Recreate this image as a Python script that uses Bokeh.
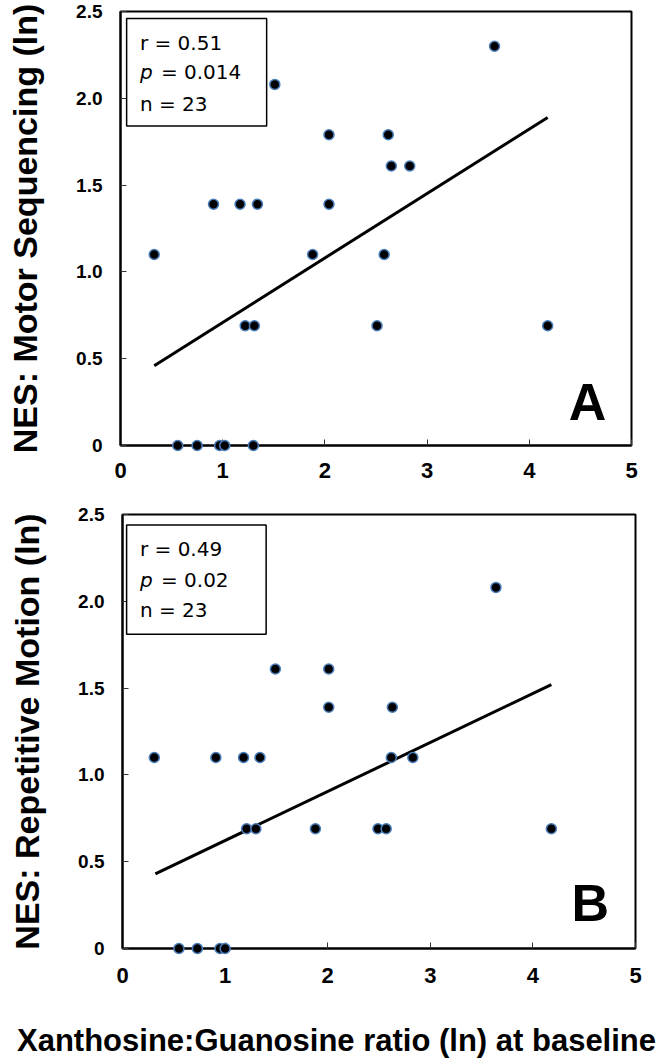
from bokeh.plotting import figure
from bokeh.layouts import column, row
from bokeh.models import Label, BoxAnnotation, FixedTicker, Range1d
from bokeh.embed import file_html
from bokeh.resources import INLINE

# ---------------- data ----------------
a_x = [0.33, 0.56, 0.75, 0.97, 1.02, 1.30, 1.22, 1.31, 1.88, 0.91, 1.17,
       1.34, 2.04, 1.51, 2.04, 2.62, 2.65, 2.83, 3.66, 2.58, 2.51, 4.18]
a_y = [1.10, 0.00, 0.00, 0.00, 0.00, 0.00, 0.69, 0.69, 1.10, 1.39, 1.39,
       1.39, 1.39, 2.08, 1.79, 1.79, 1.61, 1.61, 2.30, 1.10, 0.69, 0.69]
a_fit_x = [0.33, 4.18]
a_fit_y = [0.46, 1.89]
a_stats = ["r = 0.51", "0.014", "n = 23"]

b_x = [0.31, 0.91, 1.18, 1.34, 2.62, 2.83, 1.49, 2.01, 2.01, 2.63, 3.64,
       1.21, 1.30, 1.88, 2.49, 2.57, 4.18, 0.55, 0.73, 0.95, 1.00]
b_y = [1.10, 1.10, 1.10, 1.10, 1.10, 1.10, 1.61, 1.61, 1.39, 1.39, 2.08,
       0.69, 0.69, 0.69, 0.69, 0.69, 0.69, 0.00, 0.00, 0.00, 0.00]
b_fit_x = [0.32, 4.18]
b_fit_y = [0.43, 1.52]
b_stats = ["r = 0.49", "0.02", "n = 23"]

x_ticks = [0, 1, 2, 3, 4, 5]
y_ticks = [0, 0.5, 1.0, 1.5, 2.0, 2.5]
y_tick_labels = {0: "0", 0.5: "0.5", 1: "1.0", 1.5: "1.5", 2: "2.0", 2.5: "2.5"}
y_label_a = "NES: Motor Sequencing (ln)"
y_label_b = "NES: Repetitive Motion (ln)"
x_label = "Xanthosine:Guanosine ratio (ln) at baseline"

FONT = "Liberation Sans"
SFONT = "DejaVu Sans"


def make_panel(xs, ys, fx, fy, stats, ylab, letter, height, mb_top, mb_bottom,
               mb_left, mb_right, x_standoff, stat_x, stat_ys, box, letter_pos):
    p = figure(width=664, height=height, output_backend="svg",
               toolbar_location=None, x_range=Range1d(0, 5), y_range=Range1d(0, 2.5),
               min_border_top=mb_top, min_border_bottom=mb_bottom,
               min_border_left=mb_left, min_border_right=mb_right)
    p.grid.visible = False
    p.outline_line_color = "black"
    p.outline_line_width = 2
    p.outline_line_alpha = 1
    p.background_fill_color = "white"
    p.border_fill_color = "white"

    for ax in (p.xaxis[0], p.yaxis[0]):
        ax.axis_line_color = "black"
        ax.axis_line_width = 2
        ax.major_tick_in = 6
        ax.major_tick_out = 0
        ax.minor_tick_line_color = None
        ax.major_tick_line_color = "#333333"
        ax.major_tick_line_width = 1
        ax.major_label_text_font = FONT
        ax.major_label_text_font_style = "bold"
        ax.major_label_text_color = "black"
    p.xaxis.ticker = FixedTicker(ticks=x_ticks)
    p.xaxis.major_label_text_font_size = "22px"
    p.xaxis.major_label_standoff = x_standoff
    p.yaxis.ticker = FixedTicker(ticks=y_ticks)
    p.yaxis.major_label_overrides = y_tick_labels
    p.yaxis.major_label_text_font_size = "19px"
    p.yaxis.major_label_standoff = 18
    p.yaxis.axis_label = ylab
    p.yaxis.axis_label_text_font = FONT
    p.yaxis.axis_label_text_font_style = "bold"
    p.yaxis.axis_label_text_font_size = "34px"
    p.yaxis.axis_label_text_color = "black"
    p.yaxis.axis_label_standoff = 29

    # stats box
    p.add_layout(BoxAnnotation(left=box[0], right=box[1], bottom=box[2], top=box[3],
                               fill_color="white", fill_alpha=1,
                               line_color="black", line_alpha=1, line_width=1.5,
                               level="overlay"))
    common = dict(text_font=SFONT, text_font_size="20px", text_color="black",
                  text_baseline="middle", level="overlay")
    p.add_layout(Label(x=stat_x, y=stat_ys[0], text=stats[0], **common))
    p.add_layout(Label(x=stat_x, y=stat_ys[1], text="p", text_font_style="italic", **common))
    p.add_layout(Label(x=stat_x, y=stat_ys[1], x_offset=21, text="= " + stats[1], **common))
    p.add_layout(Label(x=stat_x, y=stat_ys[2], text=stats[2], **common))

    # regression line and points
    p.line(fx, fy, line_color="black", line_width=3, level="overlay")
    p.scatter(xs, ys, size=10, fill_color="black", line_color="#4a7ebb",
              line_width=1.5, level="overlay")

    p.add_layout(Label(x=letter_pos[0], y=letter_pos[1], text=letter, text_font=FONT,
                       text_font_style="bold", text_font_size="52px", text_color="black",
                       text_align="center", text_baseline="middle"))
    return p


p1 = make_panel(a_x, a_y, a_fit_x, a_fit_y, a_stats, y_label_a, "A",
                height=500, mb_top=11, mb_bottom=55, mb_left=120, mb_right=33,
                x_standoff=17,
                stat_x=0.19, stat_ys=[2.32, 2.15, 1.97], box=[0.06, 1.43, 1.84, 2.46],
                letter_pos=[4.57, 0.253])
p2 = make_panel(b_x, b_y, b_fit_x, b_fit_y, b_stats, y_label_b, "B",
                height=505, mb_top=14, mb_bottom=57, mb_left=122, mb_right=29,
                x_standoff=19,
                stat_x=0.17, stat_ys=[2.30, 2.12, 1.95], box=[0.04, 1.40, 1.81, 2.44],
                letter_pos=[4.56, 0.262])

xl = figure(width=664, height=57, output_backend="svg", toolbar_location=None,
            x_range=Range1d(0, 664), y_range=Range1d(0, 57),
            x_axis_location=None, y_axis_location=None, min_border=0,
            outline_line_color=None)
xl.grid.visible = False
xl.background_fill_color = "white"
xl.border_fill_color = "white"
xl.add_layout(Label(x=336, y=22, text=x_label, text_font=FONT, text_font_style="bold",
                    text_font_size="31px", text_color="black", text_align="center",
                    text_baseline="middle"))

layout = column(row(p1, spacing=0), row(p2, spacing=0), row(xl, spacing=0), spacing=0)
open("out.html", "w").write(file_html(layout, INLINE))
